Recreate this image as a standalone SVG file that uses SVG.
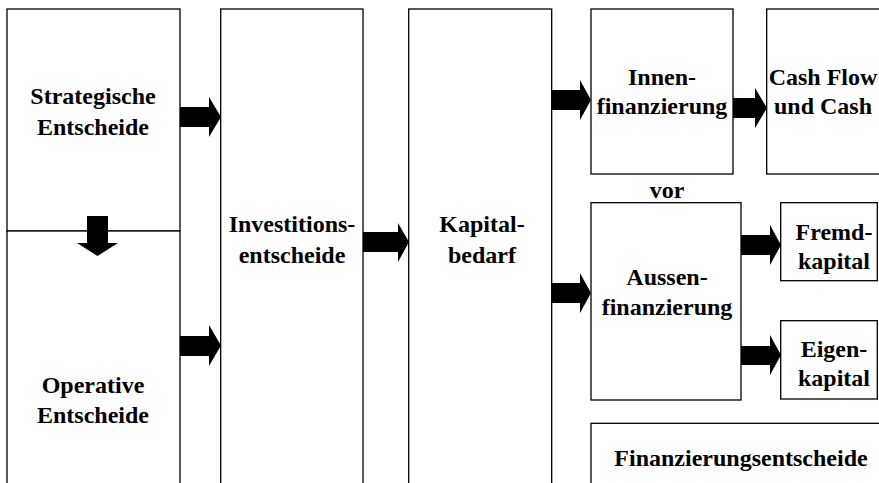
<svg xmlns="http://www.w3.org/2000/svg" width="879" height="483" viewBox="0 0 879 483">
<style>
.box{fill:#fff;stroke:#000;stroke-width:1.3}
.t{font-family:"Liberation Serif","Times New Roman",serif;font-weight:bold;font-size:24px;text-anchor:middle;fill:#000}
.arr{fill:#000;stroke:none}
</style>
<rect width="879" height="483" fill="#fff"/>
<g id="strategische">
<rect class="box" x="7" y="9" width="173" height="222"/>
<text class="t" x="93" y="104">Strategische</text>
<text class="t" x="93" y="135">Entscheide</text>
</g>
<g id="operative">
<rect class="box" x="7" y="231" width="173" height="270"/>
<text class="t" x="93" y="393">Operative</text>
<text class="t" x="93" y="423">Entscheide</text>
</g>
<g id="investitionsentscheide">
<rect class="box" x="220.7" y="9" width="142.3" height="492"/>
<text class="t" x="292" y="232">Investitions-</text>
<text class="t" x="292" y="263">entscheide</text>
</g>
<g id="kapitalbedarf">
<rect class="box" x="408.7" y="9" width="143" height="492"/>
<text class="t" x="482" y="232">Kapital-</text>
<text class="t" x="482" y="263">bedarf</text>
</g>
<g id="innenfinanzierung">
<rect class="box" x="591" y="9" width="142" height="165"/>
<text class="t" x="662" y="85">Innen-</text>
<text class="t" x="662" y="114">finanzierung</text>
</g>
<g id="cashflow">
<rect class="box" x="766.7" y="9" width="130" height="165"/>
<text class="t" x="823" y="85">Cash Flow</text>
<text class="t" x="823" y="114">und Cash</text>
</g>
<g id="vor">
<text class="t" x="667" y="198">vor</text>
</g>
<g id="aussenfinanzierung">
<rect class="box" x="591" y="202.7" width="150" height="197.3"/>
<text class="t" x="667" y="285">Aussen-</text>
<text class="t" x="667" y="315">finanzierung</text>
</g>
<g id="fremdkapital">
<rect class="box" x="780.7" y="202.7" width="96.6" height="78"/>
<text class="t" x="834" y="240">Fremd-</text>
<text class="t" x="834" y="269">kapital</text>
</g>
<g id="eigenkapital">
<rect class="box" x="780.7" y="320.7" width="96.6" height="78.3"/>
<text class="t" x="834" y="357">Eigen-</text>
<text class="t" x="834" y="386">kapital</text>
</g>
<g id="finanzierungsentscheide">
<rect class="box" x="591" y="423.3" width="300" height="80"/>
<text class="t" x="741" y="466">Finanzierungsentscheide</text>
</g>
<g id="connectors">
<polygon class="arr" points="180,107 209,107 209,97 221,117 209,137 209,127 180,127"/>
<polygon class="arr" points="180,336 209,336 209,325 221,345.5 209,366 209,356 180,356"/>
<polygon class="arr" points="87,216 108,216 108,243 118,243 97.5,256 77,243 87,243"/>
<polygon class="arr" points="363,232 398,232 398,223 409,242 398,262 398,252 363,252"/>
<polygon class="arr" points="552,90 580,90 580,80 591,100 580,120 580,110 552,110"/>
<polygon class="arr" points="552,283 580,283 580,273 591,293 580,313 580,303 552,303"/>
<polygon class="arr" points="733,98 755,98 755,88 767,108 755,128 755,118 733,118"/>
<polygon class="arr" points="741,235 770,235 770,225 781,245 770,265 770,255 741,255"/>
<polygon class="arr" points="741,346 770,346 770,335 781,355 770,375 770,365 741,365"/>
</g>
</svg>
